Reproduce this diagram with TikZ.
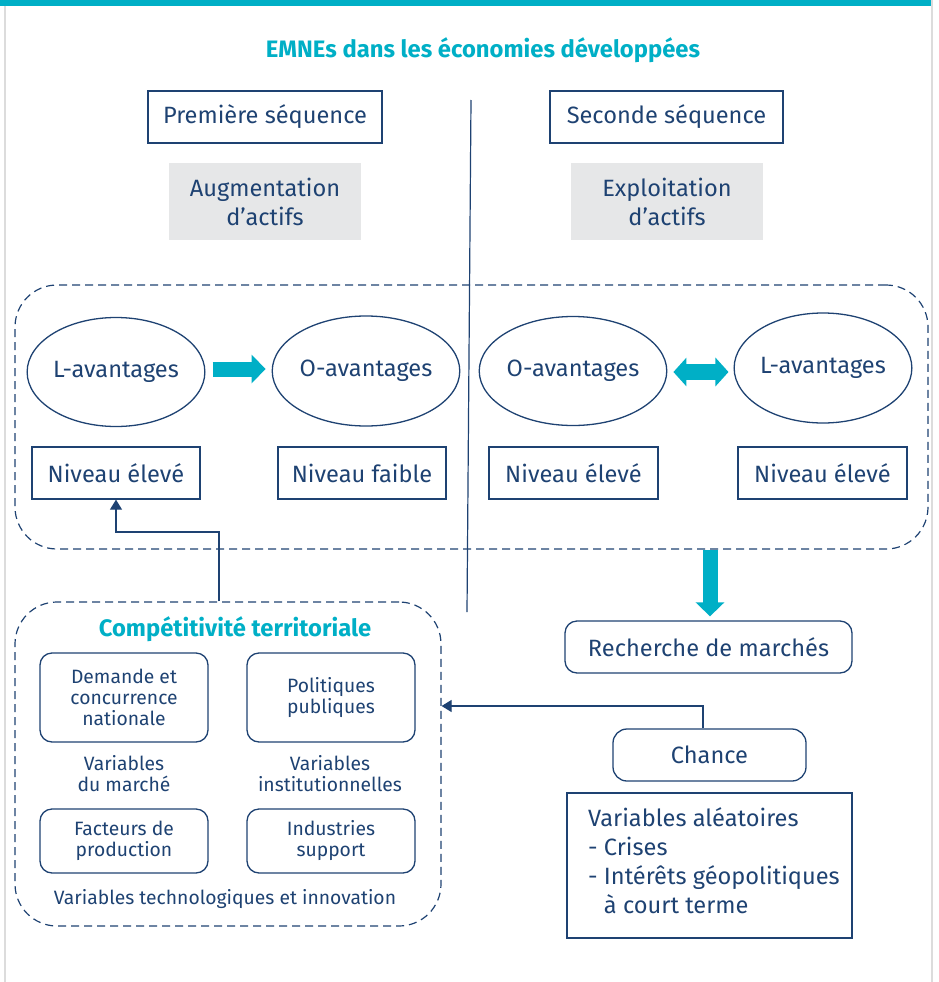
\documentclass[tikz,border=0pt]{standalone}
\usepackage{fontspec}
\setmainfont{Fira Sans}
\usetikzlibrary{shapes.geometric,arrows.meta,calc}
\definecolor{navy}{HTML}{1E4272}
\definecolor{brandteal}{HTML}{00AFC6}
\definecolor{panelgray}{HTML}{E6E7E8}
\definecolor{framegray}{HTML}{DCDCDC}
\begin{document}
\begin{tikzpicture}[x=1pt,y=-1pt,
  every node/.style={text=navy},
  lbl/.style={font=\fontsize{23.6}{29}\selectfont},
  sml/.style={font=\fontsize{19.3}{21}\selectfont},
  box/.style={draw=navy, line width=1.3pt, inner sep=0pt, lbl},
  rbox/.style={box, rounded corners=12pt},
  graybox/.style={fill=panelgray, inner sep=0pt, lbl, align=center},
  oval/.style={ellipse, draw=navy, line width=1.3pt, inner sep=0pt, lbl},
  dashframe/.style={draw=navy, line width=1.2pt, dash pattern=on 8pt off 5pt, rounded corners=42pt, inner sep=0pt},
  smallbox/.style={draw=navy, line width=1.3pt, rounded corners=12pt, inner sep=0pt, sml, align=center, minimum width=168pt},
  heading/.style={text=brandteal, font=\fontsize{23.8}{27}\selectfont\bfseries},
  conn/.style={draw=navy, line width=1.2pt, -{Triangle[length=10pt,width=12pt]}},
  bigarrow/.style={draw=brandteal, line width=15pt, -{Triangle[length=14pt,width=28pt]}},
  bigdouble/.style={draw=brandteal, line width=16pt, {Triangle[length=13pt,width=28pt]}-{Triangle[length=13pt,width=28pt]}}
]
\useasboundingbox (0,0) rectangle (938,982);

% page frame
\fill[brandteal] (0,0) rectangle (933,6);
\draw[framegray, line width=1.5pt] (5,6) -- (5,982);
\draw[framegray, line width=1.5pt] (932,0) -- (932,982);

% title
\node[heading] (title) at (483,50) {EMNEs dans les économies développées};

% divider between the two sequences
\draw[navy, line width=1.2pt] (471,100) -- (467,612);

% sequence headers
\node[box, minimum width=234pt, minimum height=52pt] (seq1) at (265,117) {Première séquence};
\node[box, minimum width=233pt, minimum height=52pt] (seq2) at (666.5,117) {Seconde séquence};
\node[graybox, minimum width=192pt, minimum height=77pt] (aug) at (265,201.5) {Augmentation\\d’actifs};
\node[graybox, minimum width=192pt, minimum height=77pt] (expl) at (667,201.5) {Exploitation\\d’actifs};

% advantages panel
\node[dashframe, minimum width=913pt, minimum height=264pt] (panel) at (471.5,417) {};
\node[oval, minimum width=174pt, minimum height=109pt] (L1) at (116,372) {L-avantages};
\node[oval, minimum width=184pt, minimum height=110pt] (O1) at (366,371) {O-avantages};
\node[oval, minimum width=182pt, minimum height=109pt] (O2) at (573,371) {O-avantages};
\node[oval, minimum width=175pt, minimum height=110pt] (L2) at (823,368) {L-avantages};
\node[box, minimum width=168pt, minimum height=52pt] (nivA) at (116,473) {Niveau élevé};
\node[box, minimum width=168pt, minimum height=52pt] (nivB) at (362,473) {Niveau faible};
\node[box, minimum width=169pt, minimum height=52pt] (nivC) at (573.5,473) {Niveau élevé};
\node[box, minimum width=169pt, minimum height=52pt] (nivD) at (822.5,473) {Niveau élevé};

\draw[bigarrow, shorten <=7pt, shorten >=6pt] (L1.east |- 0,369) -- (O1.west |- 0,369);
\draw[bigdouble, shorten <=6pt, shorten >=5pt] (O2.east |- 0,372) -- (L2.west |- 0,372);

% market seeking
\node[rbox, minimum width=287pt, minimum height=52pt] (rech) at (708.5,647) {Recherche de marchés};
\draw[bigarrow, shorten >=4pt] (panel.south -| 710,0) -- (rech.north -| 710,0);

% territorial competitiveness
\node[dashframe, minimum width=426pt, minimum height=324pt] (comp) at (228,764) {};
\node[heading] (comptitle) at (235,629) {Compétitivité territoriale};
\node[smallbox, minimum height=89pt] (dem) at (124,697.5) {Demande et\\concurrence\\nationale};
\node[smallbox, minimum height=89pt] (pol) at (331,697.5) {Politiques\\publiques};
\node[sml, align=center] (varm) at (124,774) {Variables\\du marché};
\node[sml, align=center] (vari) at (330,774) {Variables\\institutionnelles};
\node[smallbox, minimum height=64pt] (fac) at (124,841) {Facteurs de\\production};
\node[smallbox, minimum height=64pt] (ind) at (331,841) {Industries\\support};
\node[sml] (vartech) at (225,899) {Variables technologiques et innovation};

\coordinate (bend) at (219,532);
\draw[conn] (comp.north -| bend) -- (bend) -| (nivA.south);

% chance
\node[rbox, rounded corners=14pt, minimum width=193pt, minimum height=52pt] (chance) at (709.5,755) {Chance};
\coordinate (cbend) at (703,706);
\draw[conn] (chance.north -| cbend) -- (cbend) -- (cbend -| comp.east);

\node[box, minimum width=285pt, minimum height=145pt] (alea) at (709.5,865.5) {};
\node[lbl, align=left, anchor=west, inner sep=0pt] (aleatxt) at (588,860.5)
  {Variables aléatoires\\- Crises\\- Intérêts géopolitiques\\\hphantom{- }à court terme};
\end{tikzpicture}
\end{document}
